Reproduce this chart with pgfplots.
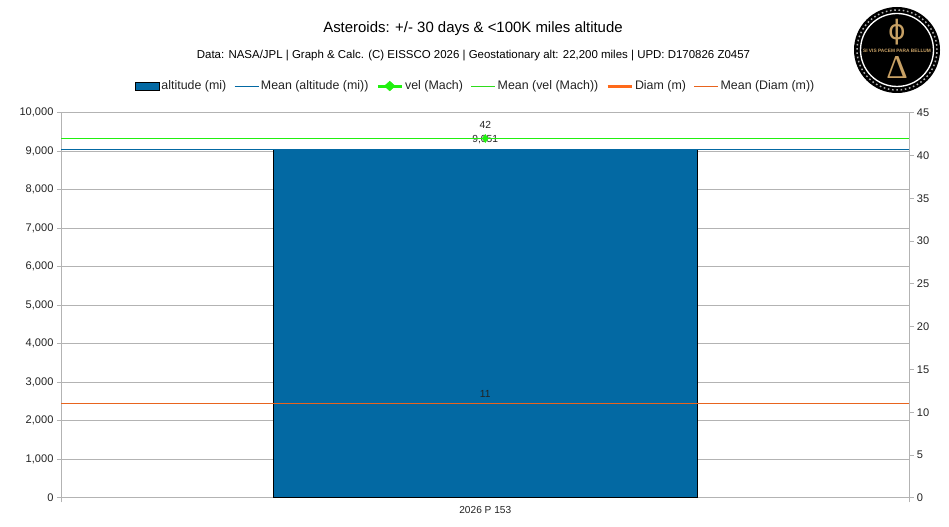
\documentclass[border=0pt]{standalone}
\usepackage{fontspec}
\setmainfont{Liberation Sans}
\newfontfamily\logoserif{Liberation Serif}
\newfontfamily\logosans{DejaVu Sans}
\usepackage{pgfplots}
\pgfplotsset{compat=1.18}
\definecolor{altblue}{HTML}{0369A3}
\definecolor{velgreen}{HTML}{21F00F}
\definecolor{meangreen}{HTML}{2FDC1C}
\definecolor{diamorange}{HTML}{FF6A1A}
\definecolor{meanorange}{HTML}{E8641E}
\definecolor{axisgray}{HTML}{B3B3B3}
\definecolor{txt}{HTML}{222222}
\definecolor{gold}{HTML}{C8A165}
\pgfplotsset{
  base/.style={
    scale only axis, width=635.7pt, height=288.75pt,
    at={(46.1pt,21.9pt)}, anchor=south west,
    xmin=0.5, xmax=1.5,
    axis line style={axisgray, line width=0.75pt},
    tick style={axisgray, line width=0.75pt},
    major tick length=3.5pt,
    tick align=outside,
    scaled y ticks=false,
    /pgf/number format/assume math mode=true,
    /pgf/number format/1000 sep={,},
    ticklabel style={font=\fontsize{8.3}{10}\selectfont, text=txt},
    nodes near coords style={font=\fontsize{7.7}{9}\selectfont, text=txt, inner sep=0pt},
    clip=false,
  },
}
\begin{document}
\begin{tikzpicture}[x=0.75pt,y=0.75pt]
\path[use as bounding box] (0,0) rectangle (949,527);
\begin{axis}[base,
  ymin=0, ymax=10000, ytick distance=1000,
  axis y line*=left, axis x line*=bottom,
  yticklabel style={xshift=1pt},
  xtick={0.5,1.5}, xticklabels={},
  extra x ticks={1}, extra x tick labels={2026 P 153},
  extra x tick style={major tick length=0pt, ticklabel style={font=\fontsize{7.6}{9}\selectfont, yshift=-2.75pt}},
  ymajorgrids, grid style={axisgray, line width=0.75pt},
]
\addplot[ybar, bar width=318pt, draw=black, line width=0.6pt, fill=altblue,
  nodes near coords, nodes near coords style={yshift=3.5pt}] coordinates {(1,9051)};
\addplot[altblue, line width=0.75pt] coordinates {(0.5,9051) (1.5,9051)};
\end{axis}
\begin{axis}[base,
  ymin=0, ymax=45, ytick distance=5,
  axis y line*=right, axis x line=none,
  yticklabel style={xshift=-1.2pt},
  legend columns=6,
  legend style={at={(0.4885,1.0695)}, anchor=center, draw=none, fill=none,
    font=\fontsize{9.3}{11}\selectfont, text=txt, inner sep=0pt, outer sep=0pt,
    /tikz/every even column/.append style={column sep=4.45pt},
    nodes={inner sep=1.4pt}},
]
\addplot[meanorange, line width=0.75pt, forget plot] coordinates {(0.5,11) (1.5,11)};
\addplot[color=velgreen, line width=0.9pt, forget plot] coordinates {(0.5,42) (1.5,42)};
\addplot[velgreen, only marks, mark=diamond*, mark size=3pt, forget plot,
  nodes near coords, nodes near coords style={yshift=7pt}] coordinates {(1,42)};
\addplot[diamorange, only marks, mark size=0pt, forget plot,
  nodes near coords, nodes near coords style={yshift=4.5pt}] coordinates {(1,11)};
\addlegendimage{legend image code/.code={\draw[black, line width=0.6pt, fill=altblue] (0pt,-3pt) rectangle (18pt,3pt);}}
\addlegendentry{altitude (mi)}
\addlegendimage{altblue, line width=0.75pt, legend image code/.code={\draw[altblue, line width=0.75pt] (0pt,0pt) -- (18pt,0pt);}}
\addlegendentry{Mean (altitude (mi))}
\addlegendimage{legend image code/.code={\draw[velgreen, line width=2.3pt] (0pt,0pt) -- (18pt,0pt); \fill[velgreen] (9pt,3.6pt) -- (13pt,0pt) -- (9pt,-3.6pt) -- (5pt,0pt) -- cycle;}}
\addlegendentry{vel (Mach)}
\addlegendimage{legend image code/.code={\draw[meangreen, line width=0.75pt] (0pt,0pt) -- (18pt,0pt);}}
\addlegendentry{Mean (vel (Mach))}
\addlegendimage{legend image code/.code={\draw[diamorange, line width=2.3pt] (0pt,0pt) -- (18pt,0pt);}}
\addlegendentry{Diam (m)}
\addlegendimage{legend image code/.code={\draw[meanorange, line width=0.75pt] (0pt,0pt) -- (18pt,0pt);}}
\addlegendentry{Mean (Diam (m))}
\end{axis}
\node[text=black, font=\fontsize{11.2}{13}\selectfont] at (473,498) {Asteroids: +/- 30 days \& <100K miles altitude};
\node[text=black, font=\fontsize{8.6}{10}\selectfont] at (473.5,471) {Data: NASA/JPL | Graph \& Calc. (C) EISSCO 2026 | Geostationary alt: 22,200 miles | UPD: D170826 Z0457};
% logo
\fill[black] (897,477) circle (43);
\draw[white, line width=1pt] (897,477) circle (36.5);
\draw[gray!60, line width=1.1pt, dash pattern=on 1.2pt off 2pt] (897,477) circle (40);
\node[text=gold, font=\logosans\fontsize{20}{20}\selectfont, inner sep=0pt] at (897,495) {ϕ};
\node[text=gold, font=\fontsize{3.6}{4}\bfseries\selectfont, inner sep=0pt] at (897,476.5) {SI VIS PACEM PARA BELLUM};
\node[text=gold, font=\logoserif\fontsize{25}{25}\selectfont, inner sep=0pt] at (897,459) {Δ};
\end{tikzpicture}
\end{document}
